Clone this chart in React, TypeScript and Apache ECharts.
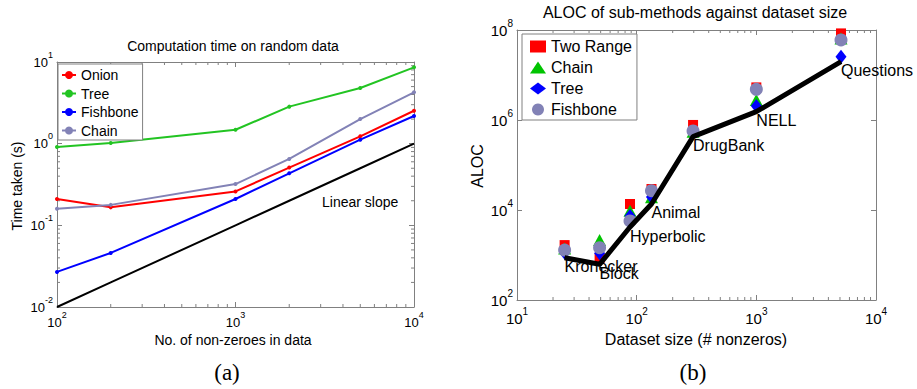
import React, { useEffect, useRef } from 'react';
import * as echarts from 'echarts';

// ---------- (a) Computation time on random data ----------
const nnz = [100, 200, 1000, 2000, 5000, 10000];
const onionTime = [0.21, 0.166, 0.26, 0.51, 1.23, 2.53];
const treeTime = [0.91, 1.02, 1.48, 2.84, 4.8, 8.6];
const fishboneTime = [0.0269, 0.0459, 0.21, 0.433, 1.12, 2.18];
const chainTime = [0.16, 0.178, 0.32, 0.65, 2.0, 4.25];
const linearSlope = [0.01, 0.02, 0.1, 0.2, 0.5, 1];

// ---------- (b) ALOC of sub-methods against dataset size ----------
const datasets = ['Kronecker', 'Block', 'Hyperbolic', 'Animal', 'DrugBank', 'NELL', 'Questions'];
const datasetSize = [25, 49, 88, 133, 296, 1000, 5100];
const alocTwoRange = [1660, 850, 13600, 29300, 776000, 5.3e6, 8.4e7];
const alocChain = [1400, 2150, 9660, 19100, 550000, 2.8e6, 6.5e7];
const alocTree = [1120, 1100, 7360, 19500, 540000, 2.05e6, 2.55e7];
const alocFishbone = [1290, 1450, 5700, 26900, 570000, 4.8e6, 6.0e7];
const alocBound = [870, 621, 4190, 13600, 427000, 1.53e6, 1.98e7];

// minor tick positions (axis decoration)
const minorXa = [200, 300, 400, 500, 600, 700, 800, 900, 2000, 3000, 4000, 5000, 6000, 7000, 8000, 9000];
const minorYa = [0.02, 0.03, 0.04, 0.05, 0.06, 0.07, 0.08, 0.09, 0.2, 0.3, 0.4, 0.5, 0.6, 0.7, 0.8, 0.9, 2, 3, 4, 5, 6, 7, 8, 9];
const minorXb = [20, 30, 40, 50, 60, 70, 80, 90, 200, 300, 400, 500, 600, 700, 800, 900, 2000, 3000, 4000, 5000, 6000, 7000, 8000, 9000];

const FONT = '"Liberation Sans", Arial, Helvetica, sans-serif';
const SERIF = '"Liberation Serif", "Times New Roman", serif';
const AXIS = '#808080';

const supFmt = (v: number) => `{b|10}{s|${Math.round(Math.log10(v))}}`;

function logAxis(
  gridIndex: number,
  min: number,
  max: number,
  position: string,
  lab: { b: number; s: number; lh: number; margin: number } | null,
  interval?: number
) {
  const a: any = {
    type: 'log',
    logBase: 10,
    gridIndex,
    min,
    max,
    position,
    axisLine: { show: true, onZero: false, lineStyle: { color: AXIS, width: 1 } },
    axisTick: { show: true, inside: true, length: 5, lineStyle: { color: AXIS, width: 1 } },
    splitLine: { show: false },
    minorTick: { show: false },
    minorSplitLine: { show: false },
    axisLabel: lab
      ? {
          show: true,
          margin: lab.margin,
          color: '#000',
          formatter: supFmt,
          rich: {
            b: { fontSize: lab.b, lineHeight: lab.lh, verticalAlign: 'middle', fontFamily: FONT, color: '#000' },
            s: { fontSize: lab.s, lineHeight: lab.s, verticalAlign: 'top', fontFamily: FONT, color: '#000' },
          },
        }
      : { show: false },
  };
  if (interval) a.interval = interval;
  return a;
}

function minorX(xi: number, yi: number, vals: number[], yMin: number, yMax: number) {
  return {
    type: 'custom',
    xAxisIndex: xi,
    yAxisIndex: yi,
    silent: true,
    clip: false,
    z: 1,
    data: vals.map((v) => [v, yMin]),
    renderItem: (_p: any, api: any) => {
      const v = api.value(0);
      const a = api.coord([v, yMin]);
      const b = api.coord([v, yMax]);
      return {
        type: 'group',
        children: [
          { type: 'line', shape: { x1: a[0], y1: a[1], x2: a[0], y2: a[1] - 3 }, style: { stroke: AXIS, lineWidth: 1 } },
          { type: 'line', shape: { x1: b[0], y1: b[1], x2: b[0], y2: b[1] + 3 }, style: { stroke: AXIS, lineWidth: 1 } },
        ],
      };
    },
  };
}

function minorY(xi: number, yi: number, vals: number[], xMin: number, xMax: number) {
  return {
    type: 'custom',
    xAxisIndex: xi,
    yAxisIndex: yi,
    silent: true,
    clip: false,
    z: 1,
    data: vals.map((v) => [xMin, v]),
    renderItem: (_p: any, api: any) => {
      const v = api.value(1);
      const a = api.coord([xMin, v]);
      const b = api.coord([xMax, v]);
      return {
        type: 'group',
        children: [
          { type: 'line', shape: { x1: a[0], y1: a[1], x2: a[0] + 3, y2: a[1] }, style: { stroke: AXIS, lineWidth: 1 } },
          { type: 'line', shape: { x1: b[0], y1: b[1], x2: b[0] - 3, y2: b[1] }, style: { stroke: AXIS, lineWidth: 1 } },
        ],
      };
    },
  };
}

const zip = (xs: number[], ys: number[]) => xs.map((x, i) => [x, ys[i]]);

function lineA(name: string, ys: number[], color: string) {
  return {
    type: 'line',
    name,
    xAxisIndex: 0,
    yAxisIndex: 0,
    data: zip(nnz, ys),
    symbol: 'circle',
    symbolSize: 4,
    showSymbol: true,
    lineStyle: { color, width: 2 },
    itemStyle: { color },
    silent: true,
    z: 3,
  };
}

function scatterB(name: string, ys: number[], color: string, symbol: string, size: any) {
  return {
    type: 'scatter',
    name,
    xAxisIndex: 2,
    yAxisIndex: 2,
    data: zip(datasetSize, ys),
    symbol,
    symbolSize: size,
    itemStyle: { color, opacity: 1 },
    silent: true,
    z: 3,
  };
}

const txt = (x: number, y: number, text: string, font: string, align = 'center', rotation = 0) => ({
  type: 'text',
  x,
  y,
  rotation,
  style: { text, font, fill: '#000', textAlign: align, textVerticalAlign: 'middle' },
  silent: true,
});

const option: any = {
  animation: false,
  backgroundColor: '#fff',
  grid: [
    { left: 57, top: 62, width: 357, height: 245 },
    { left: 517, top: 30, width: 359, height: 270 },
  ],
  xAxis: [
    logAxis(0, 100, 10000, 'bottom', { b: 13, s: 9, lh: 24, margin: 3 }),
    logAxis(0, 100, 10000, 'top', null),
    logAxis(1, 10, 10000, 'bottom', { b: 15, s: 10, lh: 24, margin: 6 }),
    logAxis(1, 10, 10000, 'top', null),
  ],
  yAxis: [
    logAxis(0, 0.01, 10, 'left', { b: 13, s: 9, lh: 24, margin: 4 }),
    logAxis(0, 0.01, 10, 'right', null),
    logAxis(1, 100, 1e8, 'left', { b: 15, s: 10, lh: 24, margin: 4 }, 2),
    logAxis(1, 100, 1e8, 'right', null, 2),
  ],
  legend: [
    {
      orient: 'vertical',
      left: 58,
      top: 64,
      data: ['Onion', 'Tree', 'Fishbone', 'Chain'],
      itemWidth: 14,
      itemHeight: 10,
      itemGap: 2.5,
      padding: [3, 4, 1.5, 3],
      borderColor: AXIS,
      borderWidth: 1,
      borderRadius: 0,
      backgroundColor: '#fff',
      selectedMode: false,
      textStyle: { fontSize: 14, lineHeight: 16, color: '#000', fontFamily: FONT },
    },
    {
      orient: 'vertical',
      left: 522,
      top: 34,
      data: ['Two Range', 'Chain ', 'Tree ', 'Fishbone '],
      formatter: (n: string) => n.trim(),
      itemWidth: 16,
      itemHeight: 12,
      itemGap: 3,
      padding: [3.5, 5, 1.5, 8],
      borderColor: AXIS,
      borderWidth: 1,
      borderRadius: 0,
      backgroundColor: '#fff',
      selectedMode: false,
      textStyle: { fontSize: 16, lineHeight: 18, color: '#000', fontFamily: FONT },
    },
  ],
  series: [
    minorX(0, 0, minorXa, 0.01, 10),
    minorY(0, 0, minorYa, 100, 10000),
    minorX(2, 2, minorXb, 100, 1e8),
    lineA('Onion', onionTime, '#ff0000'),
    lineA('Tree', treeTime, '#22c422'),
    lineA('Fishbone', fishboneTime, '#0000ff'),
    lineA('Chain', chainTime, '#8282b6'),
    {
      type: 'line',
      name: 'Linear slope',
      xAxisIndex: 0,
      yAxisIndex: 0,
      data: zip(nnz, linearSlope),
      symbol: 'none',
      lineStyle: { color: '#000', width: 2 },
      silent: true,
      z: 3,
    },
    scatterB('Two Range', alocTwoRange, '#ff0000', 'rect', 10),
    scatterB('Chain ', alocChain, '#00c400', 'triangle', [13, 12]),
    scatterB('Tree ', alocTree, '#0000ff', 'diamond', [11, 14]),
    scatterB('Fishbone ', alocFishbone, '#8282b6', 'circle', 13),
    {
      type: 'line',
      name: 'Bound',
      xAxisIndex: 2,
      yAxisIndex: 2,
      data: zip(datasetSize, alocBound),
      symbol: 'circle',
      symbolSize: 1,
      showSymbol: true,
      itemStyle: { color: '#000' },
      lineStyle: { color: '#000', width: 5 },
      silent: true,
      z: 4,
      label: {
        show: true,
        position: [0.5, 1.5],
        align: 'left',
        verticalAlign: 'top',
        formatter: (p: any) => datasets[p.dataIndex],
        fontSize: 16,
        fontFamily: FONT,
        color: '#000',
      },
    },
  ],
  graphic: [
    txt(233, 46, 'Computation time on random data', `14px ${FONT}`),
    txt(233, 340, 'No. of non-zeroes in data', `14px ${FONT}`),
    txt(17, 186, 'Time taken (s)', `14px ${FONT}`, 'center', Math.PI / 2),
    txt(322, 202, 'Linear slope', `14px ${FONT}`, 'left'),
    txt(695, 12, 'ALOC of sub-methods against dataset size', `16px ${FONT}`),
    txt(696, 339, 'Dataset size (# nonzeros)', `16px ${FONT}`),
    txt(477, 166, 'ALOC', `16px ${FONT}`, 'center', Math.PI / 2),
    txt(227, 372, '(a)', `23px ${SERIF}`),
    txt(693, 372, '(b)', `23px ${SERIF}`),
  ],
};

export default function App() {
  const ref = useRef<HTMLDivElement>(null);
  useEffect(() => {
    if (!ref.current) return;
    const chart = echarts.init(ref.current, null, { renderer: 'svg' });
    chart.setOption(option);
    return () => chart.dispose();
  }, []);
  return (
    <div
      ref={ref}
      style={{ position: 'fixed', left: 0, top: 0, width: 917, height: 389, background: '#fff' }}
    />
  );
}
